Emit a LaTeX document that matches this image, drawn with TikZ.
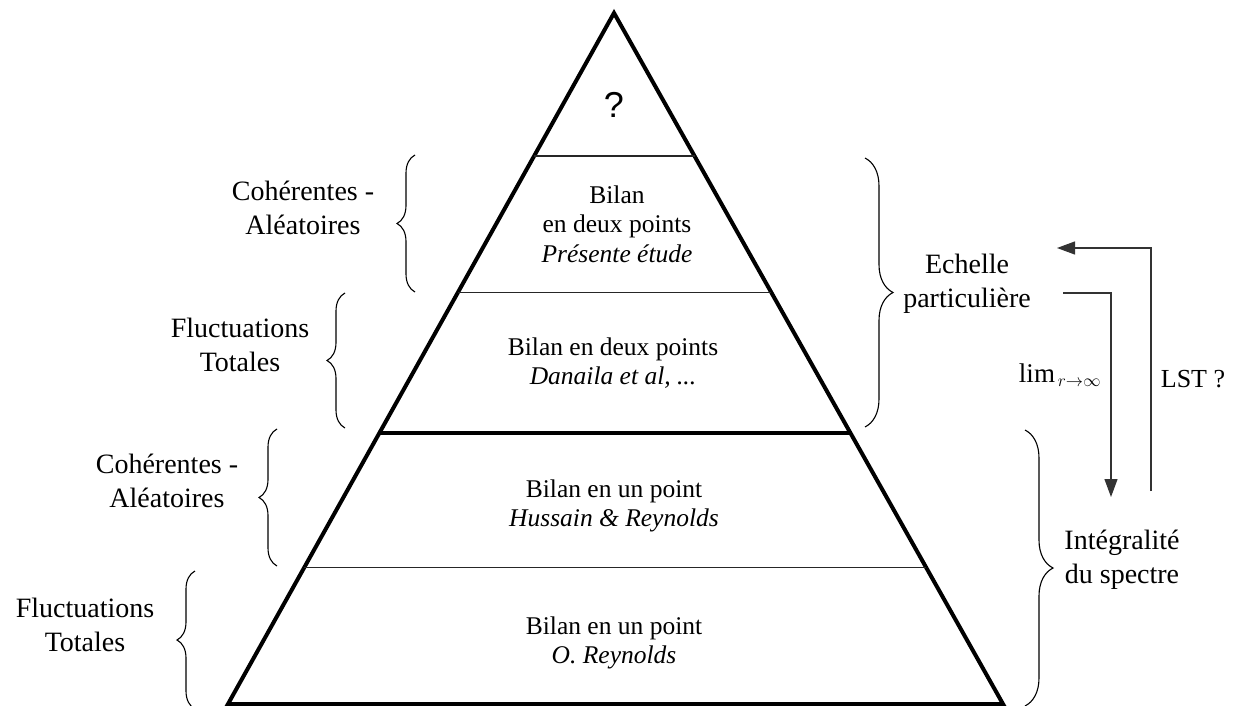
\documentclass[tikz,border=0pt]{standalone}
\usepackage{fontspec}
\setmainfont{Liberation Serif}
\newfontfamily\qfont{Liberation Sans}
\usetikzlibrary{decorations.pathreplacing,arrows.meta,calc}
\begin{document}
\begin{tikzpicture}[x=1pt,y=-1pt,
  tri/.style={line width=4pt, line join=miter, miter limit=20},
  thinsep/.style={line width=1.2pt, black!85},
  thicksep/.style={line width=4pt},
  lbl/.style={font=\fontsize{28}{34}\selectfont, align=center, inner sep=0pt},
  inlbl/.style={font=\fontsize{25.5}{29.5}\selectfont, align=center, inner sep=0pt},
  lbrace/.style={decorate, decoration={brace, amplitude=18pt}, line width=1.1pt},
  rbrace/.style={decorate, decoration={brace, amplitude=28pt}, line width=1.1pt},
  conn/.style={line width=1.2pt, black!80},
  tipend/.style={-{Triangle[length=18pt,width=13pt]}}
]
\path[fill=white] (0,0) rectangle (1248,706);
\useasboundingbox (0,0) rectangle (1248,706);

% pyramid
\coordinate (apex) at (614,13);
\coordinate (bl) at (228,704);
\coordinate (br) at (1003,704);
\draw[tri] (apex) -- (bl) -- (br) -- cycle;
\draw[thinsep] ($(apex)!0.207!(bl)$) -- ($(apex)!0.207!(br)$);
\draw[thinsep] ($(apex)!0.404!(bl)$) -- ($(apex)!0.404!(br)$);
\draw[thicksep] ($(apex)!0.608!(bl)$) -- ($(apex)!0.608!(br)$);
\draw[thinsep] ($(apex)!0.803!(bl)$) -- ($(apex)!0.803!(br)$);

% texts inside
\node[inner sep=0pt, font=\qfont\fontsize{36}{40}\selectfont] (q) at (614,105) {?};
\node[inlbl] (t1) at (617,224) {Bilan\\en deux points\\\textit{Présente étude}};
\node[inlbl] (t2) at (613,363) {Bilan en deux points\\\textit{Danaila et al, ...}};
\node[inlbl] (t3) at (614,506) {Bilan en un point\\\textit{Hussain \& Reynolds}};
\node[inlbl] (t4) at (614,643) {Bilan en un point\\\textit{O. Reynolds}};

% left labels and braces
\node[lbl] (l1) at (303,208) {Cohérentes -\\Aléatoires};
\node[lbl] (l2) at (240,345) {Fluctuations\\Totales};
\node[lbl] (l3) at (167,481) {Cohérentes -\\Aléatoires};
\node[lbl] (l4) at (85,625) {Fluctuations\\Totales};
\draw[lbrace] (415,292) -- (415,155);
\draw[lbrace] (345,428) -- (345,293);
\draw[lbrace] (277,566) -- (277,429);
\draw[lbrace] (195,709) -- (195,571);

% right braces and labels
\draw[rbrace] (865,158) -- (865,427);
\draw[rbrace] (1025,430) -- (1025,706);
\node[lbl] (r1) at (967,284) {Echelle\\particulière};
\node[lbl] (r2) at (1122,560) {Intégralité\\du spectre};

% arrows
\coordinate (d0) at (1063,293);
\coordinate (d1) at (1111,497);
\coordinate (u0) at (1151,491);
\coordinate (u1) at (1057,248);
\draw[conn, tipend] (d0) -| (d1);
\draw[conn, tipend] (u0) |- (u1);
\node[inner sep=0pt, font=\fontsize{27}{30}\selectfont] (lim) at (1060,375) {$\lim_{\,r\to\infty}$};
\node[inner sep=0pt, font=\fontsize{26}{30}\selectfont] (lst) at (1193,379) {LST ?};
\end{tikzpicture}
\end{document}
